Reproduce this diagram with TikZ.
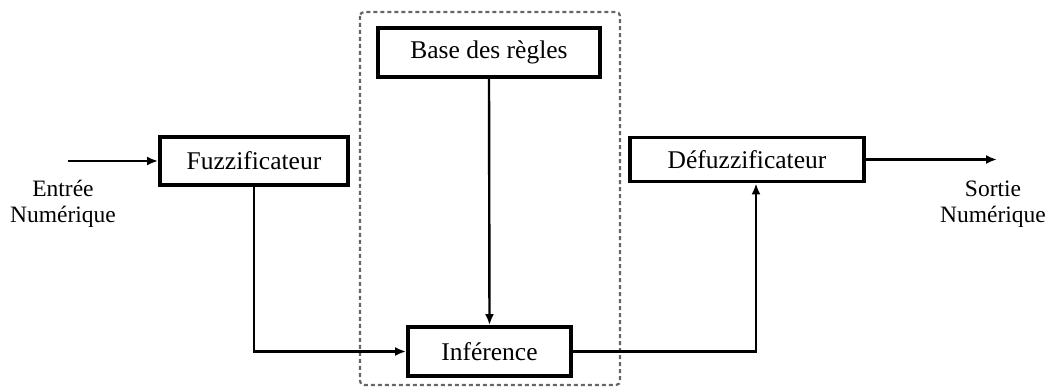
\documentclass[tikz,border=0pt]{standalone}
\usepackage{fontspec}
\setmainfont{Liberation Serif}
\usetikzlibrary{arrows.meta}
\begin{document}
\begin{tikzpicture}[x=1pt,y=-1pt,
  blk/.style={draw, line width=3.8pt, inner sep=0pt, font=\fontsize{25.5}{30}\selectfont},
  conn/.style={line width=2.4pt, -{Latex[length=11pt,width=9pt]}},
  lbl/.style={align=center, inner sep=0pt, font=\fontsize{23.5}{26}\selectfont},
  grp/.style={draw=black!60, dash pattern=on 4pt off 3pt, line width=2.2pt, rounded corners=4pt}]
\useasboundingbox (0,0) rectangle (1050,387);
\draw[grp] (360,12) rectangle (620,385);
\node[blk, minimum width=188pt, minimum height=48pt] (fuzz) at (254,161) {Fuzzificateur};
\node[blk, minimum width=222pt, minimum height=49pt] (base) at (489,52.5) {Base des règles};
\node[blk, minimum width=163pt, minimum height=49pt] (inf) at (489.5,351.5) {Inférence};
\node[blk, minimum width=234pt, minimum height=44pt] (defuzz) at (747,159.5) {Défuzzificateur};
\coordinate (in) at (68,161);
\coordinate (out) at (997,159.5);
\coordinate (dup) at (756,0);
\node[lbl] (inlbl) at (63,204) {Entrée\\Numérique};
\node[lbl] (outlbl) at (993,204) {Sortie\\Numérique};
\draw[conn] (in) -- (fuzz.west);
\draw[conn] (defuzz.east) -- (out);
\draw[conn] (fuzz.south) |- (inf.west);
\draw[conn] (base.south) -- (inf.north);
\draw[conn] (inf.east) -| (defuzz.south -| dup);
\end{tikzpicture}
\end{document}
